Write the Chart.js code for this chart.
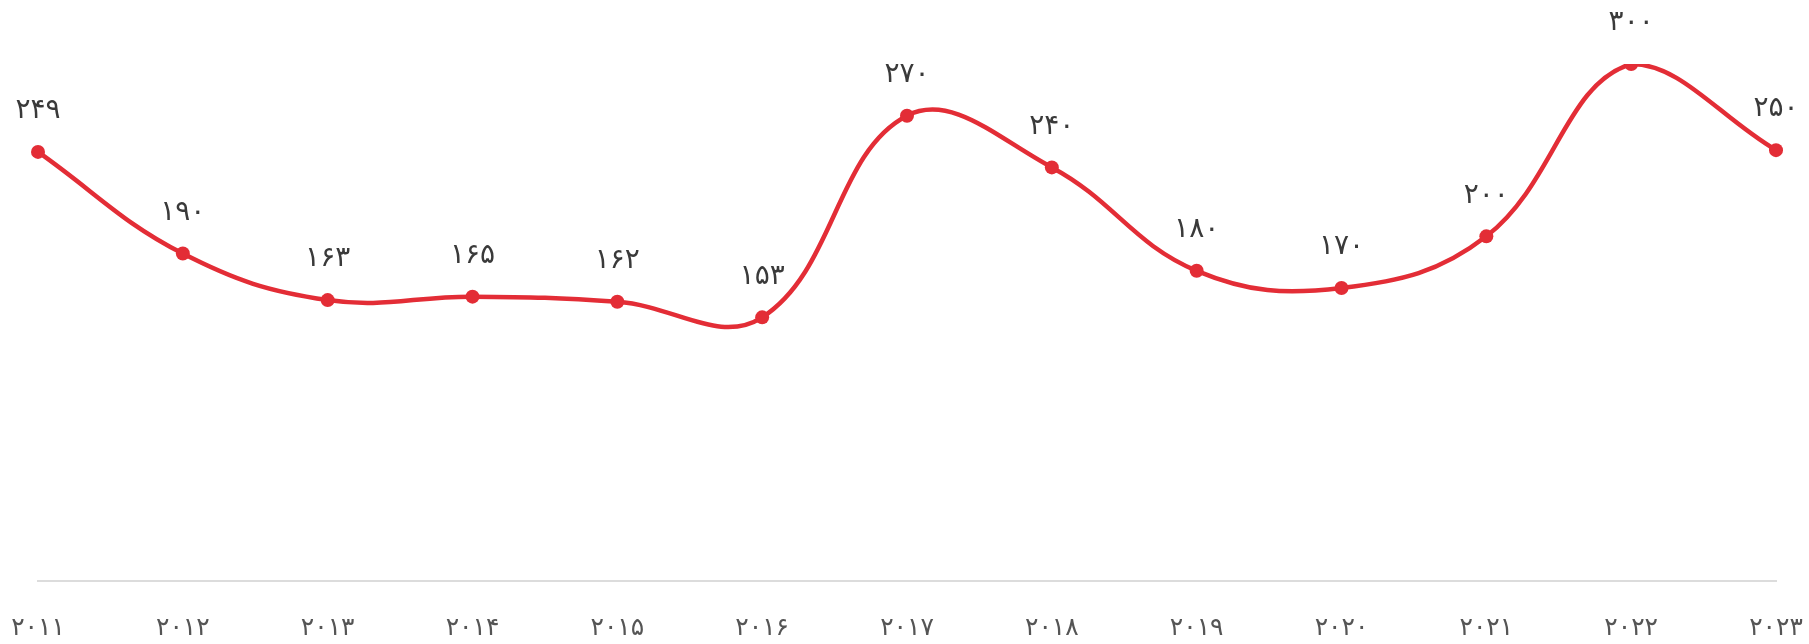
<!DOCTYPE html>
<html lang="fa">
<head>
<meta charset="utf-8">
<script src="https://cdn.jsdelivr.net/npm/chart.js@4.4.1/dist/chart.umd.min.js"></script>
<style>
  html, body { margin: 0; padding: 0; background: #fff; }
  #wrap { width: 1809px; height: 644px; position: relative; }
</style>
</head>
<body>
<div id="wrap"><canvas id="chart"></canvas></div>
<script>
// سال‌ها
const years = ['۲۰۱۱', '۲۰۱۲', '۲۰۱۳', '۲۰۱۴', '۲۰۱۵', '۲۰۱۶', '۲۰۱۷', '۲۰۱۸', '۲۰۱۹', '۲۰۲۰', '۲۰۲۱', '۲۰۲۲', '۲۰۲۳'];
// مقادیر
const values = [249, 190, 163, 165, 162, 153, 270, 240, 180, 170, 200, 300, 250];

const faDigits = '۰۱۲۳۴۵۶۷۸۹';
const toFa = n => String(n).replace(/\d/g, d => faDigits[d]);

const lineColor = '#e32d36';
const fontFamily = '"DejaVu Sans", sans-serif';

// برچسب مقدار بالای هر نقطه
const valueLabels = {
  id: 'valueLabels',
  afterDatasetsDraw(chart) {
    const ctx = chart.ctx;
    const meta = chart.getDatasetMeta(0);
    ctx.save();
    ctx.font = '28px ' + fontFamily;
    ctx.fillStyle = '#3a3a3a';
    ctx.textAlign = 'center';
    ctx.textBaseline = 'middle';
    meta.data.forEach((pt, i) => {
      ctx.fillText(toFa(values[i]), pt.x, pt.y - 41);
    });
    ctx.restore();
  }
};

new Chart(document.getElementById('chart'), {
  type: 'line',
  data: {
    labels: years,
    datasets: [{
      data: values,
      borderColor: lineColor,
      backgroundColor: lineColor,
      borderWidth: 4.5,
      tension: 0.4,
      pointRadius: 7,
      pointHoverRadius: 7,
      pointBackgroundColor: lineColor,
      pointBorderWidth: 0,
      fill: false,
    }],
  },
  options: {
    responsive: true,
    maintainAspectRatio: false,
    animation: false,
    layout: { padding: { left: 38, right: 33, top: 64, bottom: 0 } },
    plugins: {
      legend: { display: false },
      tooltip: { enabled: false },
    },
    scales: {
      x: {
        offset: false,
        grid: { display: false },
        border: { display: true, color: '#dcdcdc', width: 2 },
        ticks: {
          color: '#555555',
          font: { family: fontFamily, size: 25 },
          padding: 24,
          maxRotation: 0,
          autoSkip: false,
        },
        afterFit(scale) {
          scale.height = 63;
          scale.paddingLeft = 0;
          scale.paddingRight = 0;
        },
      },
      y: {
        display: false,
        min: 0,
        max: 300,
      },
    },
  },
  plugins: [valueLabels],
});
</script>
</body>
</html>
